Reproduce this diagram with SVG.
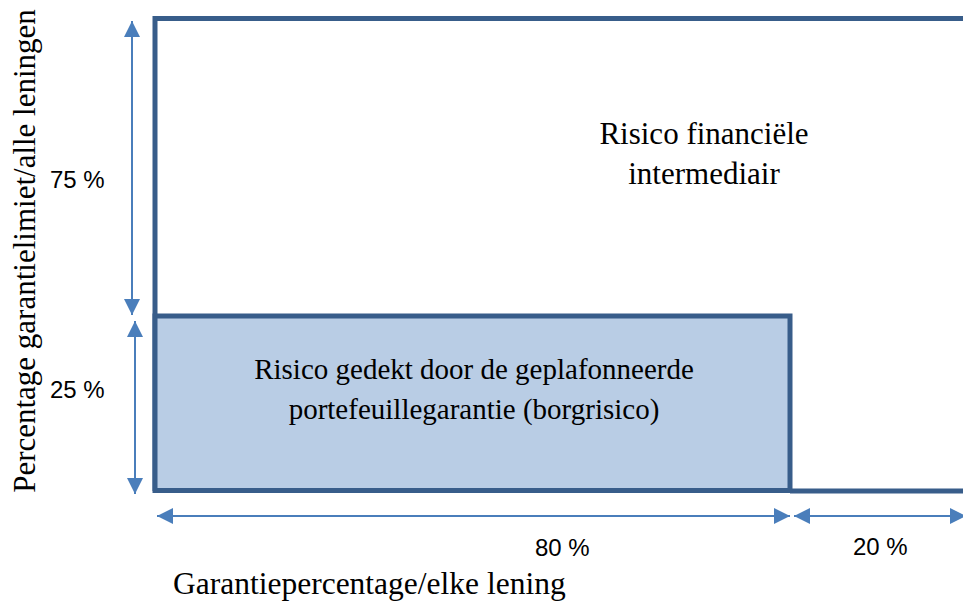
<svg xmlns="http://www.w3.org/2000/svg" width="963" height="602" viewBox="0 0 963 602">
<style>
.frame{fill:none;stroke:#385d8a;stroke-width:5;stroke-linejoin:miter}
.box{fill:#b9cde5;stroke:#385d8a;stroke-width:5}
.arr{stroke:#4a7ebb;stroke-width:2;fill:none}
text.serif{font-family:'Liberation Serif','Times New Roman',serif;fill:#000}
text.sans{font-family:'Liberation Sans',Arial,sans-serif;font-size:24px;fill:#000}
</style>
<defs>
<marker id="ah" viewBox="0 0 10 10" refX="10" refY="5" markerWidth="8" markerHeight="8" markerUnits="strokeWidth" orient="auto-start-reverse">
<path d="M0,0 L10,5 L0,10 Z" fill="#4a7ebb"/>
</marker>
</defs>
<rect width="963" height="602" fill="#fff"/>
<g id="frame-outer">
<path class="frame" d="M155,491 L155,18.5 L966,18.5"/>
<path class="frame" d="M790,491 L966,491"/>
</g>
<g id="box-borgrisico">
<rect class="box" x="155" y="316" width="635" height="174.5"/>
<text class="serif" font-family="Liberation Serif, serif" font-size="29" text-anchor="middle" x="474" y="379">Risico gedekt door de geplafonneerde</text>
<text class="serif" font-family="Liberation Serif, serif" font-size="29" text-anchor="middle" x="474" y="419">portefeuillegarantie (borgrisico)</text>
</g>
<g id="region-intermediair">
<text class="serif" font-family="Liberation Serif, serif" font-size="31" text-anchor="middle" x="704" y="144">Risico financiële</text>
<text class="serif" font-family="Liberation Serif, serif" font-size="31" text-anchor="middle" x="704" y="184">intermediair</text>
</g>
<g id="connectors">
<line class="arr" x1="132" y1="21" x2="132" y2="315" marker-start="url(#ah)" marker-end="url(#ah)"/>
<line class="arr" x1="135" y1="321" x2="135" y2="494" marker-start="url(#ah)" marker-end="url(#ah)"/>
<line class="arr" x1="157" y1="516" x2="790" y2="516" marker-start="url(#ah)" marker-end="url(#ah)"/>
<line class="arr" x1="794" y1="516" x2="966" y2="516" marker-start="url(#ah)" marker-end="url(#ah)"/>
</g>
<g id="labels">
<text class="sans" x="50" y="188">75 %</text>
<text class="sans" x="50" y="398">25 %</text>
<text class="sans" x="535" y="556">80 %</text>
<text class="sans" x="853" y="555">20 %</text>
<text class="serif" font-family="Liberation Serif, serif" font-size="31.5" x="173" y="594">Garantiepercentage/elke lening</text>
<text class="serif" font-family="Liberation Serif, serif" font-size="31" text-anchor="middle" transform="translate(35,251) rotate(-90)">Percentage garantielimiet/alle leningen</text>
</g>
</svg>
